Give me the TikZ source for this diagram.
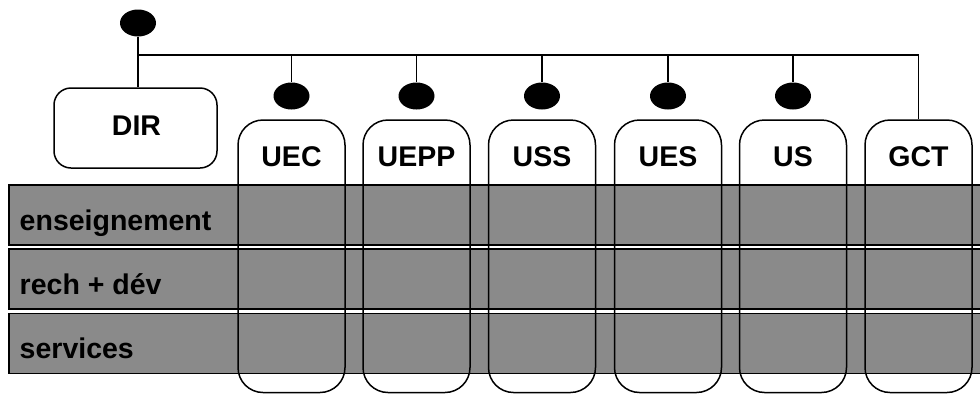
\documentclass[tikz,border=0pt]{standalone}
\usepackage{fontspec}
\setmainfont{Liberation Sans}
\usetikzlibrary{shapes.geometric}
\definecolor{bandgray}{RGB}{138,138,138}

\begin{document}
\begin{tikzpicture}[x=1pt,y=-1pt,line width=1.5pt,font=\fontsize{28.5}{34}\selectfont\bfseries]
\tikzstyle{band}=[draw,fill=bandgray,rectangle,minimum width=991pt,minimum height=60pt,inner sep=0pt]
\tikzstyle{unit}=[draw,rectangle,rounded corners=25pt,minimum width=107pt,minimum height=272.5pt,inner sep=0pt]
\tikzstyle{dot}=[fill=black,ellipse,minimum width=36pt,minimum height=27pt,inner sep=0pt]
\tikzstyle{lab}=[anchor=base,inner sep=0pt]
\tikzstyle{rowlab}=[anchor=base west,inner sep=0pt]

\clip (0,0) rectangle (980,394);

% rows: activities
\node[band] (ens) at (504.5,215) {};
\node[band] (rd) at (504.5,279) {};
\node[band] (serv) at (504.5,343.5) {};
\node[rowlab] (lens) at (19,230) {enseignement};
\node[rowlab] (lrd) at (19,294) {rech + dév};
\node[rowlab] (lserv) at (19,358) {services};

% columns: units
\node[unit] (uec) at (291.5,256.25) {};
\node[unit] (uepp) at (416.5,256.25) {};
\node[unit] (uss) at (542,256.25) {};
\node[unit] (ues) at (668,256.25) {};
\node[unit] (us) at (793,256.25) {};
\node[unit] (gct) at (918.5,256.25) {};
\node[lab] (luec) at (uec |- 0,166) {UEC};
\node[lab] (luepp) at (uepp |- 0,166) {UEPP};
\node[lab] (luss) at (uss |- 0,166) {USS};
\node[lab] (lues) at (ues |- 0,166) {UES};
\node[lab] (lus) at (us |- 0,166) {US};
\node[lab] (lgct) at (gct |- 0,166) {GCT};

% direction
\node[draw,rectangle,rounded corners=17pt,minimum width=163pt,minimum height=80pt,inner sep=0pt] (dir) at (135.5,128) {};
\node[lab] (ldir) at (136.5,135) {DIR};

% dots and bus
\node[dot] (dtop) at (138,23) {};
\coordinate (bus) at (138,55);
\node[dot] (duec) at (uec |- 0,96) {};
\node[dot] (duepp) at (uepp |- 0,96) {};
\node[dot] (duss) at (uss |- 0,96) {};
\node[dot] (dues) at (ues |- 0,96) {};
\node[dot] (dus) at (us |- 0,96) {};

\draw (dtop.south) -- (dtop.south |- dir.north);
\draw (bus) -| (gct.north);
\draw (duec.north) -- (duec.north |- bus);
\draw (duepp.north) -- (duepp.north |- bus);
\draw (duss.north) -- (duss.north |- bus);
\draw (dues.north) -- (dues.north |- bus);
\draw (dus.north) -- (dus.north |- bus);

\end{tikzpicture}
\end{document}
